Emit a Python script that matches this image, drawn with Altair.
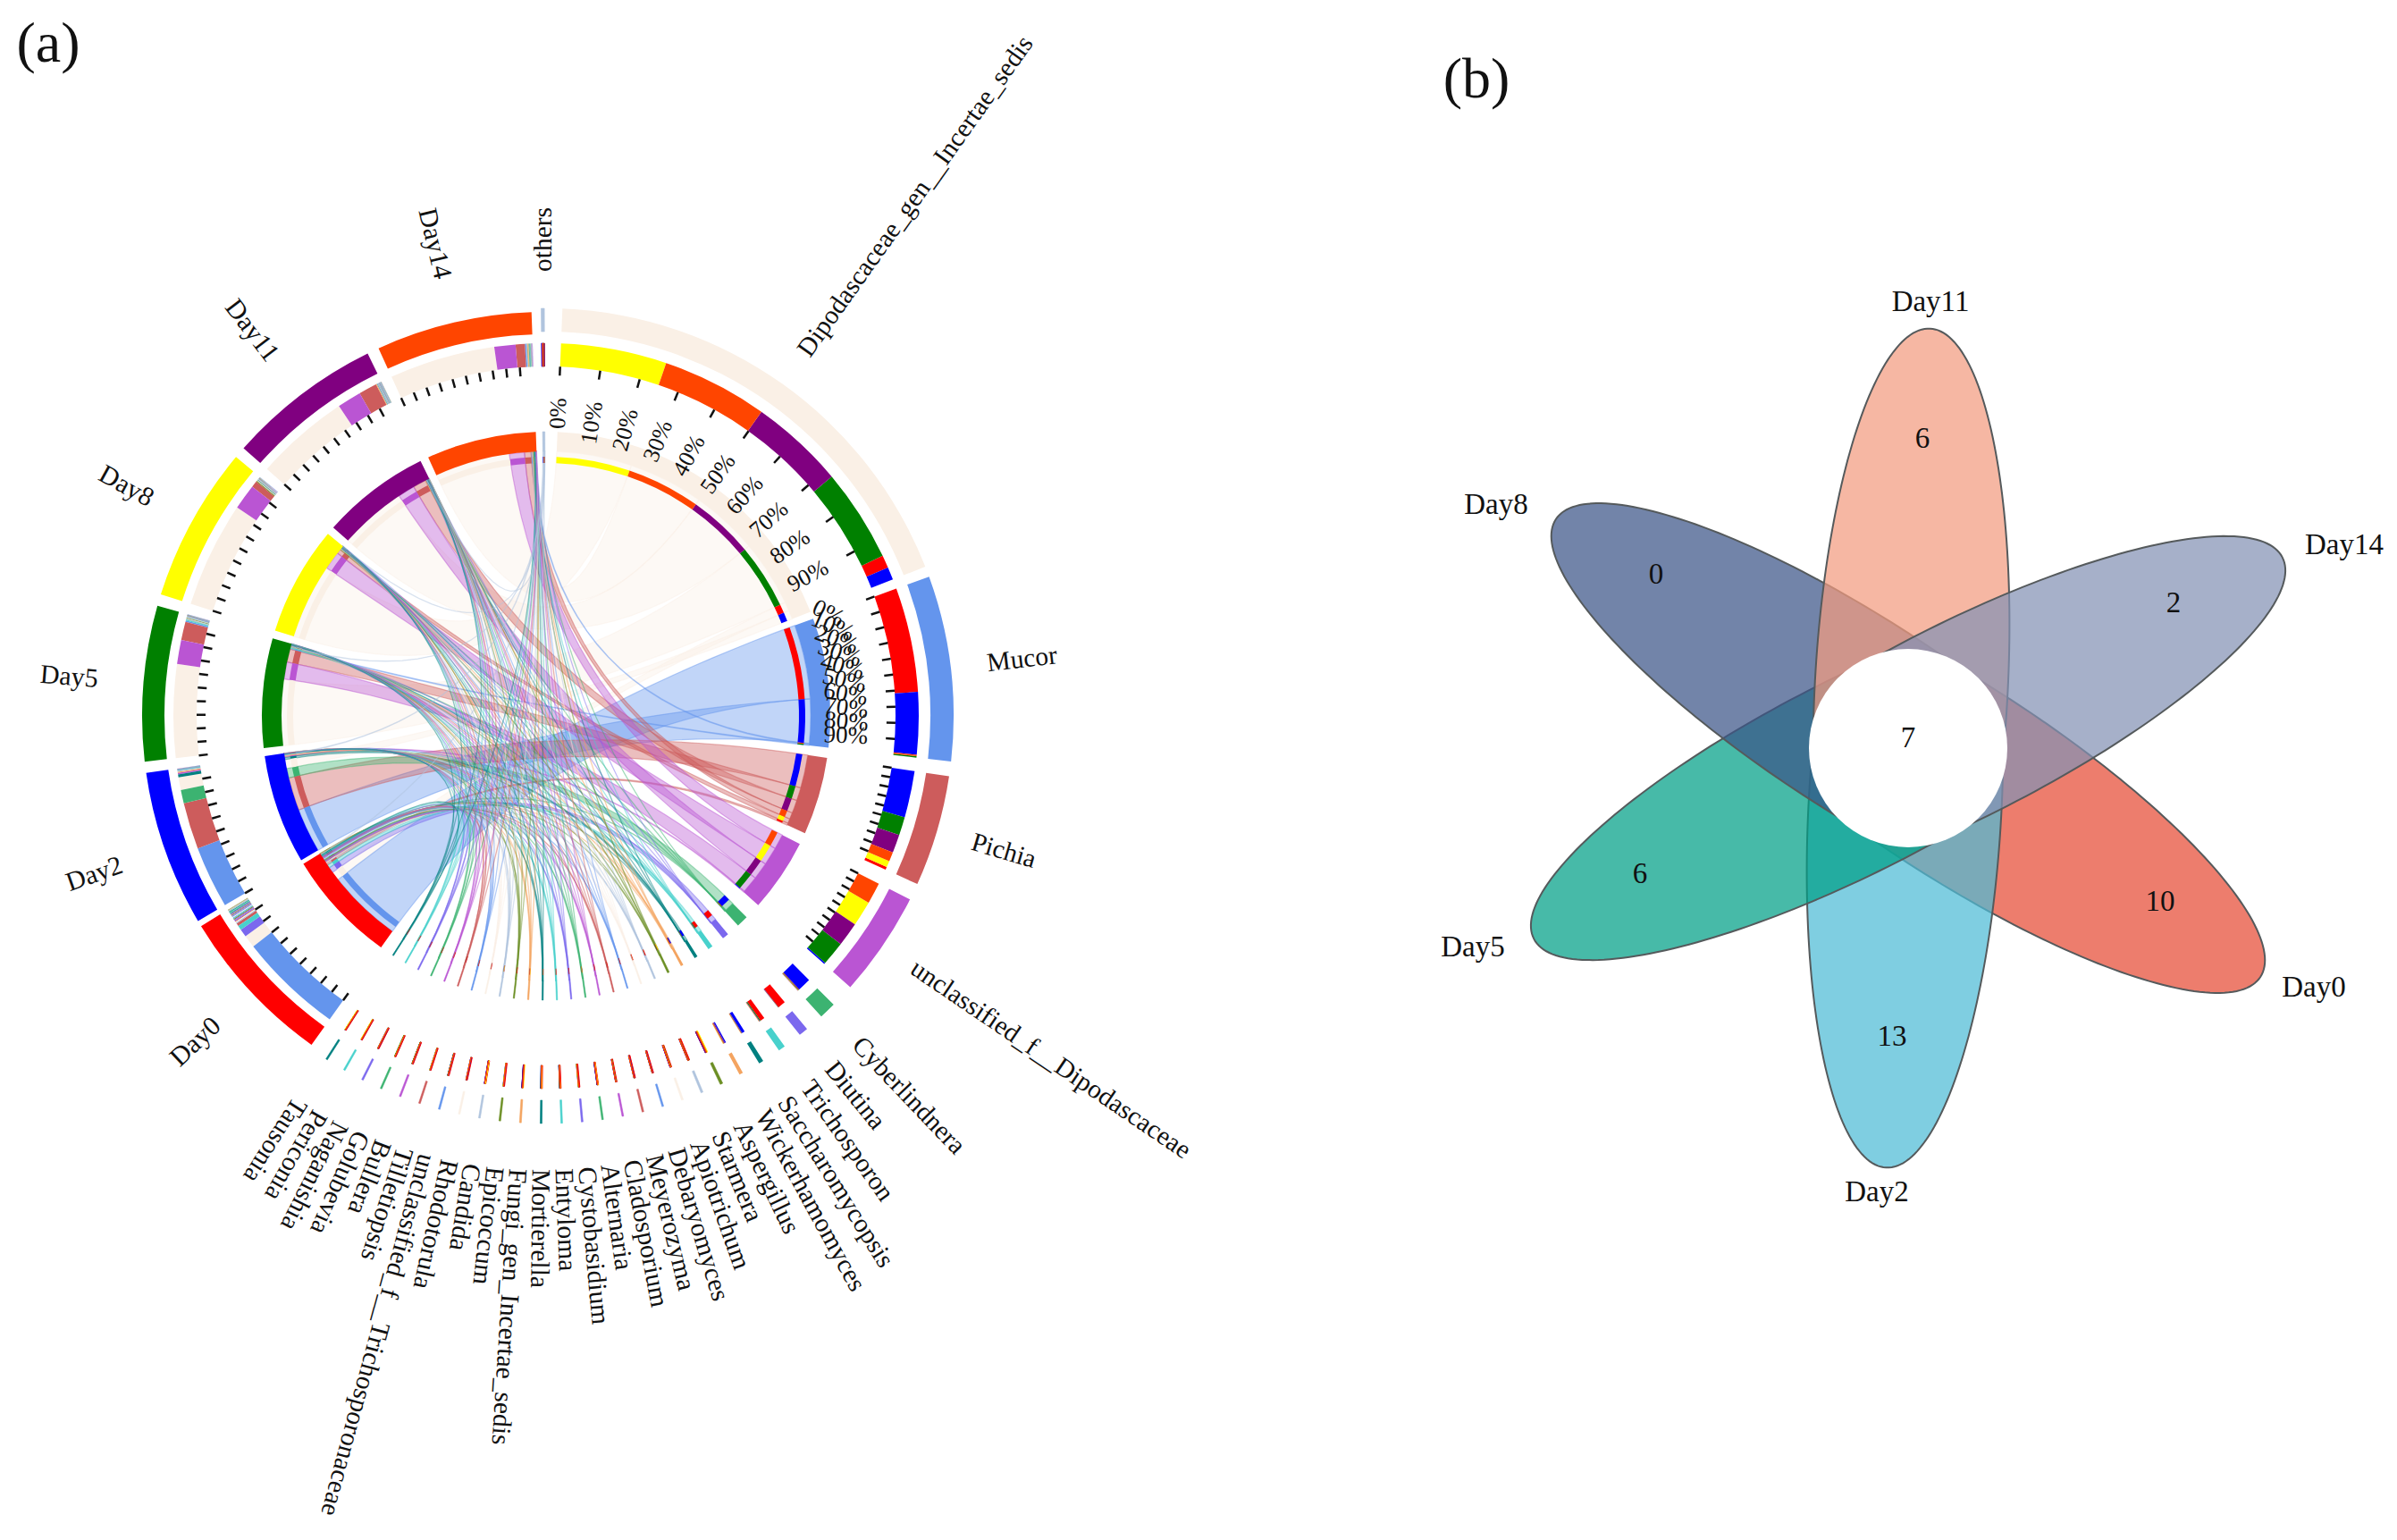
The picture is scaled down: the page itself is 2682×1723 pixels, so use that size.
import math
import altair as alt
import pandas as pd

alt.data_transformers.disable_max_rows()

# ---------------- data ----------------
days = ["Day0", "Day2", "Day5", "Day8", "Day11", "Day14"]
day_colors = ["#FF0000", "#0000FF", "#008000", "#FFFF00", "#800080", "#FF4500"]

taxa = ["Dipodascaceae_gen__Incertae_sedis", "Mucor", "Pichia", "unclassified_f__Dipodascaceae",
        "Cyberlindnera", "Diutina", "Trichosporon", "Saccharomycopsis", "Wickerhamomyces",
        "Aspergillus", "Starmera", "Apiotrichum", "Debaryomyces", "Meyerozyma", "Cladosporium",
        "Alternaria", "Cystobasidium", "Entyloma", "Mortierella", "Fungi_gen_Incertae_sedis",
        "Epicoccum", "Candida", "Rhodotorula", "unclassified_f__Trichosporonaceae",
        "Tilletiopsis", "Bullera", "Golubevia", "Naganishia", "Periconia", "Tausonia"]
taxa_colors = ["#FAF0E6", "#6495ED", "#CD5C5C", "#BA55D3",
               "#3CB371", "#7B68EE", "#48D1CC", "#008080", "#F4A460", "#6B8E23", "#B0C4DE",
               "#FAF0E6", "#6495ED", "#CD5C5C", "#BA55D3",
               "#3CB371", "#7B68EE", "#48D1CC", "#008080", "#F4A460", "#6B8E23", "#B0C4DE",
               "#FAF0E6", "#6495ED", "#CD5C5C", "#BA55D3",
               "#3CB371", "#7B68EE", "#48D1CC", "#008080"]
# columns follow `days`
abundance = [
    [9, 9, 66, 75, 67, 75],
    [74, 44, 1, 0, 0, 1],
    [2, 33, 13, 4.5, 13, 6.5],
    [0, 1, 17, 18, 17, 15],
    [0.5, 9.5, 0.4, 0.2, 0.2, 0.1],
    [5.6, 0.1, 0.1, 0.05, 0.1, 0.05],
    [3.2, 0.2, 0.6, 0.1, 0.2, 0.2],
    [0.2, 2.1, 0.2, 0.1, 0.2, 0.2],
    [0.2, 0.9, 0.3, 0.2, 0.5, 0.3],
    [0.2, 0.1, 0.3, 0.6, 0.1, 0.4],
    [0.9, 0.05, 0.1, 0.1, 0.1, 0.1],
    [0.6, 0.06, 0.14, 0.14, 0.12, 0.14],
    [0.55, 0.04, 0.1, 0.12, 0.14, 0.1],
    [0.6, 0.05, 0.1, 0.1, 0.15, 0.1],
    [0.58, 0.04, 0.1, 0.1, 0.1, 0.1],
    [0.3, 0.05, 0.12, 0.26, 0.1, 0.2],
    [0.6, 0.04, 0.08, 0.08, 0.15, 0.1],
    [0.54, 0.04, 0.1, 0.14, 0.12, 0.12],
    [0.44, 0.06, 0.1, 0.22, 0.12, 0.18],
    [0.26, 0.04, 0.12, 0.32, 0.1, 0.32],
    [0.56, 0.06, 0.1, 0.1, 0.14, 0.12],
    [0.32, 0.06, 0.2, 0.28, 0.1, 0.12],
    [0.54, 0.04, 0.12, 0.1, 0.16, 0.1],
    [0.52, 0.06, 0.1, 0.12, 0.14, 0.12],
    [0.5, 0.06, 0.1, 0.1, 0.18, 0.12],
    [0.52, 0.08, 0.08, 0.12, 0.16, 0.1],
    [0.42, 0.1, 0.1, 0.12, 0.18, 0.14],
    [0.46, 0.08, 0.12, 0.1, 0.2, 0.12],
    [0.42, 0.12, 0.1, 0.1, 0.18, 0.16],
    [0.42, 0.12, 0.12, 0.1, 0.16, 0.16],
]
others_values = [0.3, 0.6, 0.4, 0.1, 0.2, 0.5]
others_color = "#B0C4DE"
# stacking order of the days in the four large taxa
stack_order = [[3, 5, 4, 2, 0, 1], [0, 1, 5, 2, 3, 4], [1, 2, 4, 5, 3, 0], [5, 3, 4, 2, 1, 0]]
percent_labels = ["0%", "10%", "20%", "30%", "40%", "50%", "60%", "70%", "80%", "90%"]

venn_days = ["Day0", "Day2", "Day5", "Day8", "Day11", "Day14"]
venn_colors = ["#E64B35", "#4DBBD5", "#00A087", "#3C5488", "#F39B7F", "#8491B4"]
venn_headings = [123, 183, 243, 303, 3, 63]
venn_counts = ["10", "13", "6", "0", "6", "2"]
venn_core = "7"
venn_count_x = [2417, 2117, 1835, 1853, 2151, 2432]
venn_count_y = [1009, 1160, 978, 643, 491, 675]
venn_label_x = [2589, 2100, 1648, 1674, 2160, 2623]
venn_label_y = [1105, 1334, 1060, 565, 338, 610]

# ---------------- layout helpers ----------------
W, H = 2666, 1707
CX, CY = 611, 801
VX, VY = 2135, 837
K = 0.22
FONT = "Liberation Serif"


def polar(r, deg):
    a = math.radians(deg)
    return CX + r * math.sin(a), CY - r * math.cos(a)


R_RIBBON, R_THIN0, R_THIN1 = 296, 283, 290
R_BAND = (296, 318)
R_STACK = (391, 417)
R_TAXA = (430, 456)
R_DAY = (427, 452)
R_TICK = (381, 391)

arcs, ticks, ribbons = [], [], []


def arc(a0, a1, r0, r1, color, sw=0):
    arcs.append(dict(a0=a0, a1=a1, r0=r0, r1=r1, color=color, cx=CX, cy=CY, sw=sw))


# group positions
gaps = [1.5, 2.1, 2.4, 3.4] + [2.66] * 25
pos = 2.3
taxon_span = []
for i, row in enumerate(abundance):
    span = sum(row) * K
    taxon_span.append((pos, pos + span))
    pos += span
    if i < len(gaps):
        pos += gaps[i]

all_rows = abundance + [others_values]
all_colors = taxa_colors + [others_color]
all_spans = taxon_span + [(359.3, 359.3 + sum(others_values) * K)]

day_totals = [sum(r[j] for r in all_rows) for j in range(6)]
pos = 215.5
day_span = []
for t in day_totals:
    day_span.append((pos, pos + t * K))
    pos += 24.0

# segments inside taxa
taxon_seg = {}
for i, row in enumerate(all_rows):
    order = stack_order[i] if i < 4 else sorted(range(6), key=lambda j: -row[j])
    a = all_spans[i][0]
    for j in order:
        if row[j] > 0:
            taxon_seg[(i, j)] = (a, a + row[j] * K)
            a += row[j] * K

# segments inside days
day_seg = {}
for j in range(6):
    order = sorted(range(len(all_rows)), key=lambda i: -all_rows[i][j])
    a = day_span[j][0]
    for i in order:
        if all_rows[i][j] > 0:
            day_seg[(i, j)] = (a, a + all_rows[i][j] * K)
            a += all_rows[i][j] * K


def ribbon_points(a0, a1, b0, b1, r):
    pts = []
    for t in range(9):
        pts.append(polar(r, a0 + (a1 - a0) * t / 8))
    p0, p1 = polar(r, a1), polar(r, b0)
    for t in range(1, 24):
        u = t / 24
        pts.append(((1 - u) ** 2 * p0[0] + 2 * u * (1 - u) * CX + u ** 2 * p1[0],
                    (1 - u) ** 2 * p0[1] + 2 * u * (1 - u) * CY + u ** 2 * p1[1]))
    for t in range(9):
        pts.append(polar(r, b0 + (b1 - b0) * t / 8))
    p0, p1 = polar(r, b1), polar(r, a0)
    for t in range(1, 24):
        u = t / 24
        pts.append(((1 - u) ** 2 * p0[0] + 2 * u * (1 - u) * CX + u ** 2 * p1[0],
                    (1 - u) ** 2 * p0[1] + 2 * u * (1 - u) * CY + u ** 2 * p1[1]))
    pts.append(pts[0])
    return [[round(x, 2), round(y, 2)] for x, y in pts]


for (i, j), (a0, a1) in taxon_seg.items():
    b0, b1 = day_seg[(i, j)]
    ribbons.append({"type": "Feature",
                    "properties": {"color": all_colors[i], "order": i},
                    "geometry": {"type": "Polygon",
                                 "coordinates": [ribbon_points(a0, a1, b0, b1, R_RIBBON)]}})

# arcs of taxa
for i, (a0, a1) in enumerate(all_spans):
    c = all_colors[i]
    small = i >= 9
    arc(a0, a1, R_TAXA[0], R_TAXA[1], c, 0.6 if small else 0)
    arc(a0, a1, R_BAND[0], R_BAND[1], c, 0.6 if small else 0)
    for j in range(6):
        if (i, j) in taxon_seg:
            s0, s1 = taxon_seg[(i, j)]
            arc(s0, s1, R_STACK[0], R_STACK[1], day_colors[j], 1.0 if small else 0)
            arc(s0, s1, R_THIN0, R_THIN1, day_colors[j])

# arcs of days
for j, (a0, a1) in enumerate(day_span):
    c = day_colors[j]
    arc(a0, a1, R_DAY[0], R_DAY[1], c)
    arc(a0, a1, R_BAND[0], R_BAND[1], c)
    for i in range(len(all_rows)):
        if (i, j) in day_seg:
            s0, s1 = day_seg[(i, j)]
            arc(s0, s1, R_STACK[0], R_STACK[1], all_colors[i])
            arc(s0, s1, R_THIN0, R_THIN1, all_colors[i])


def add_ticks(a0, a1):
    for q in range(10):
        ang = a0 + (a1 - a0) * q / 10
        x0, y0 = polar(R_TICK[0], ang)
        x1, y1 = polar(R_TICK[1], ang)
        ticks.append(dict(x=x0, y=y0, x2=x1, y2=y1))


for s in taxon_span[:4] + day_span:
    add_ticks(*s)

# texts
left_text, right_text, pct_right, pct_center = [], [], [], []
for i, name in enumerate(taxa):
    mid = sum(taxon_span[i]) / 2
    r = 497 if i < 4 else 503 + 0.3 * (i - 4)
    x, y = polar(r, mid)
    left_text.append(dict(x=x, y=y, text=name, rot=(mid - 90) % 360))
x, y = polar(497, 359.7)
left_text.append(dict(x=x, y=y, text="others", rot=270))
for j, name in enumerate(days):
    mid = sum(day_span[j]) / 2
    x, y = polar(503, mid)
    right_text.append(dict(x=x, y=y, text=name, rot=(mid - 270) % 360))

for q, lab in enumerate(percent_labels):
    ang = taxon_span[0][0] + (taxon_span[0][1] - taxon_span[0][0]) * q / 10
    x, y = polar(356, ang)
    pct_right.append(dict(x=x, y=y, text=lab, rot=(ang - 90) % 360))
    ang = taxon_span[1][0] + (taxon_span[1][1] - taxon_span[1][0]) * q / 10
    x, y = polar(336, ang)
    pct_center.append(dict(x=x, y=y, text=lab, rot=(96 - ang) % 360))

# venn
venn_features = []
D0, A, B = 67, 403, 108
for name, color, head in zip(venn_days, venn_colors, venn_headings):
    th = math.radians(head)
    ux, uy = math.sin(th), -math.cos(th)
    vx, vy = math.cos(th), math.sin(th)
    phi0 = math.acos(-D0 / A)
    pts = []
    for t in range(121):
        phi = phi0 - 2 * phi0 * t / 120
        d = D0 + A * math.cos(phi)
        w = B * math.sin(phi)
        pts.append([round(VX + d * ux + w * vx, 2), round(VY + d * uy + w * vy, 2)])
    pts.append(pts[0])
    venn_features.append({"type": "Feature", "properties": {"color": color, "name": name},
                          "geometry": {"type": "Polygon", "coordinates": [pts]}})

# ---------------- chart ----------------
X = alt.X("x:Q", scale=alt.Scale(domain=[8, 8 + W]), axis=None)
Y = alt.Y("y:Q", scale=alt.Scale(domain=[8, 8 + H], reverse=True), axis=None)
PROJ = dict(type="identity", scale=1, translate=[-8, -8])


def arc_layer(df):
    return alt.Chart(df).mark_arc().encode(
        x=alt.X("cx:Q", scale=alt.Scale(domain=[8, 8 + W]), axis=None),
        y=alt.Y("cy:Q", scale=alt.Scale(domain=[8, 8 + H], reverse=True), axis=None),
        theta=alt.Theta("a0:Q", stack=None,
                        scale=alt.Scale(domain=[0, 360], range=[0, 2 * math.pi])),
        theta2="a1:Q",
        radius=alt.Radius("r1:Q", scale=None),
        radius2="r0:Q",
        fill=alt.Fill("color:N", scale=None),
        stroke=alt.Stroke("color:N", scale=None),
        strokeWidth=alt.StrokeWidth("sw:Q", scale=None),
    )


def text_layer(rows, size, align, color="#111111"):
    return alt.Chart(pd.DataFrame(rows)).mark_text(
        font=FONT, fontSize=size, align=align, baseline="middle", color=color
    ).encode(x=X, y=Y, text="text:N", angle=alt.Angle("rot:Q", scale=None))


ribbon_layer = alt.Chart(alt.Data(values=ribbons)).mark_geoshape(
    fillOpacity=0.4, strokeOpacity=0.45, strokeWidth=1.2
).encode(
    fill=alt.Fill("properties.color:N", scale=None),
    stroke=alt.Stroke("properties.color:N", scale=None),
).project(**PROJ)

tick_layer = alt.Chart(pd.DataFrame(ticks)).mark_rule(color="#111111", strokeWidth=2.5).encode(
    x=X, y=Y, x2="x2:Q", y2="y2:Q"
)

venn_layer = alt.Chart(alt.Data(values=venn_features)).mark_geoshape(
    fillOpacity=0.72, stroke="#555a5c", strokeWidth=2
).encode(fill=alt.Fill("properties.color:N", scale=None)).project(**PROJ)

hub = arc_layer(pd.DataFrame([dict(a0=0, a1=360, r0=0, r1=111, color="#FFFFFF", cx=VX, cy=VY, sw=0)]))

venn_number_rows = [dict(x=x, y=y, text=t, rot=0)
                    for x, y, t in zip(venn_count_x, venn_count_y, venn_counts)]
venn_number_rows.append(dict(x=VX, y=826, text=venn_core, rot=0))
venn_label_rows = [dict(x=x, y=y, text=t, rot=0)
                   for x, y, t in zip(venn_label_x, venn_label_y, venn_days)]
panel_rows = [dict(x=54, y=50, text="(a)", rot=0), dict(x=1652, y=90, text="(b)", rot=0)]

chart = alt.layer(
    ribbon_layer,
    arc_layer(pd.DataFrame(arcs)),
    tick_layer,
    text_layer(left_text, 29.5, "left"),
    text_layer(right_text, 30, "right"),
    text_layer(pct_right, 26, "right"),
    text_layer(pct_center, 27, "center"),
    venn_layer,
    hub,
    text_layer(venn_number_rows, 33, "center"),
    text_layer(venn_label_rows, 33, "center"),
    text_layer(panel_rows, 64, "center"),
).properties(
    width=W, height=H, padding=0, background="white",
    autosize=alt.AutoSizeParams(type="none"),
).configure_view(stroke=None)

chart.save("out.html", embed_options={"renderer": "svg", "actions": False})
